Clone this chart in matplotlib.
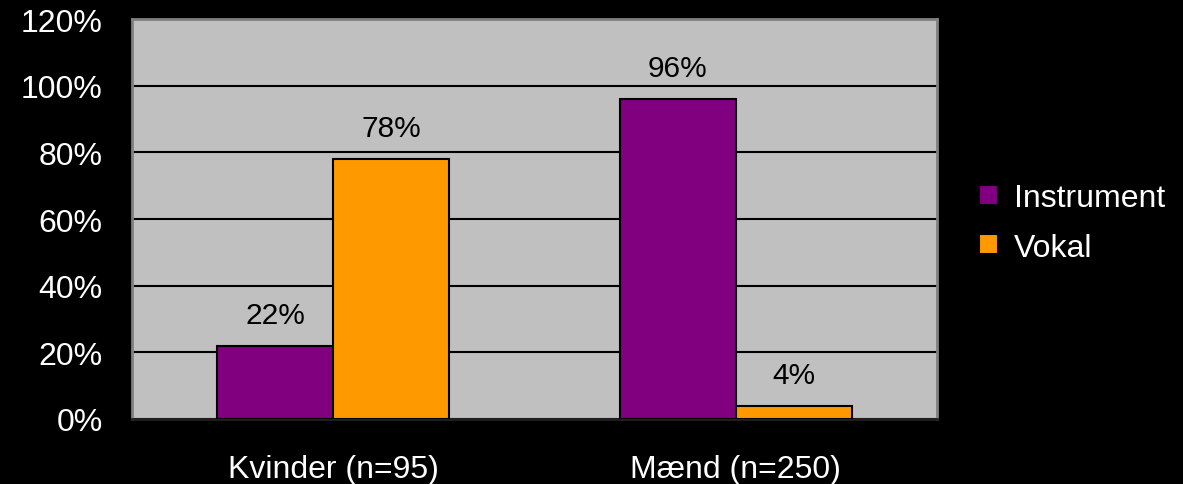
import numpy as np
import matplotlib.pyplot as plt

# data
groups = ['Kvinder (n=95)', 'Mænd (n=250)']
series = ['Instrument', 'Vokal']
instrument = [22, 96]
vokal = [78, 4]
yticks = [0, 20, 40, 60, 80, 100, 120]

colors = ['#800080', '#FF9900']
plt.rcParams['font.family'] = ['Liberation Sans', 'DejaVu Sans']

fig = plt.figure(figsize=(11.83, 4.85), dpi=100, facecolor='black')
ax = fig.add_axes([132 / 1183, 65 / 485, 805 / 1183, 400 / 485])
ax.set_facecolor('#C0C0C0')

x = np.arange(len(groups))
w = 0.288
for i, (vals, name) in enumerate(zip([instrument, vokal], series)):
    pos = x + (i - 0.5) * w
    bars = ax.bar(pos, vals, w, color=colors[i], edgecolor='black',
                  linewidth=1.5, label=name, zorder=3)
    for b, v in zip(bars, vals):
        ax.annotate(f'{v}%', (b.get_x() + b.get_width() / 2, v),
                    xytext=(0, 22), textcoords='offset points',
                    ha='center', va='center', fontsize=21.5, color='black')

ax.set_xlim(-0.5, 1.5)
ax.set_ylim(0, 120)
ax.set_yticks(yticks)
ax.set_yticklabels([f'{t}%' for t in yticks])
ax.set_xticks(x)
ax.set_xticklabels(groups)
ax.yaxis.grid(True, color='black', linewidth=1.5, zorder=1)
ax.set_axisbelow(True)
ax.tick_params(axis='both', length=0, colors='white', labelsize=23)
ax.tick_params(axis='y', pad=21)
ax.tick_params(axis='x', pad=25)

for side in ['top', 'right', 'left']:
    ax.spines[side].set_color('#808080')
    ax.spines[side].set_linewidth(2)
ax.spines['bottom'].set_color('#202020')
ax.spines['bottom'].set_linewidth(2)

leg = fig.legend(loc='center left', bbox_to_anchor=(950 / 1183, 1 - 224 / 485),
                 frameon=False, fontsize=23, labelcolor='white',
                 handlelength=0.6, handleheight=0.6, handletextpad=0.5,
                 labelspacing=0.6)

fig.savefig('out.png', dpi=100, facecolor='black')
